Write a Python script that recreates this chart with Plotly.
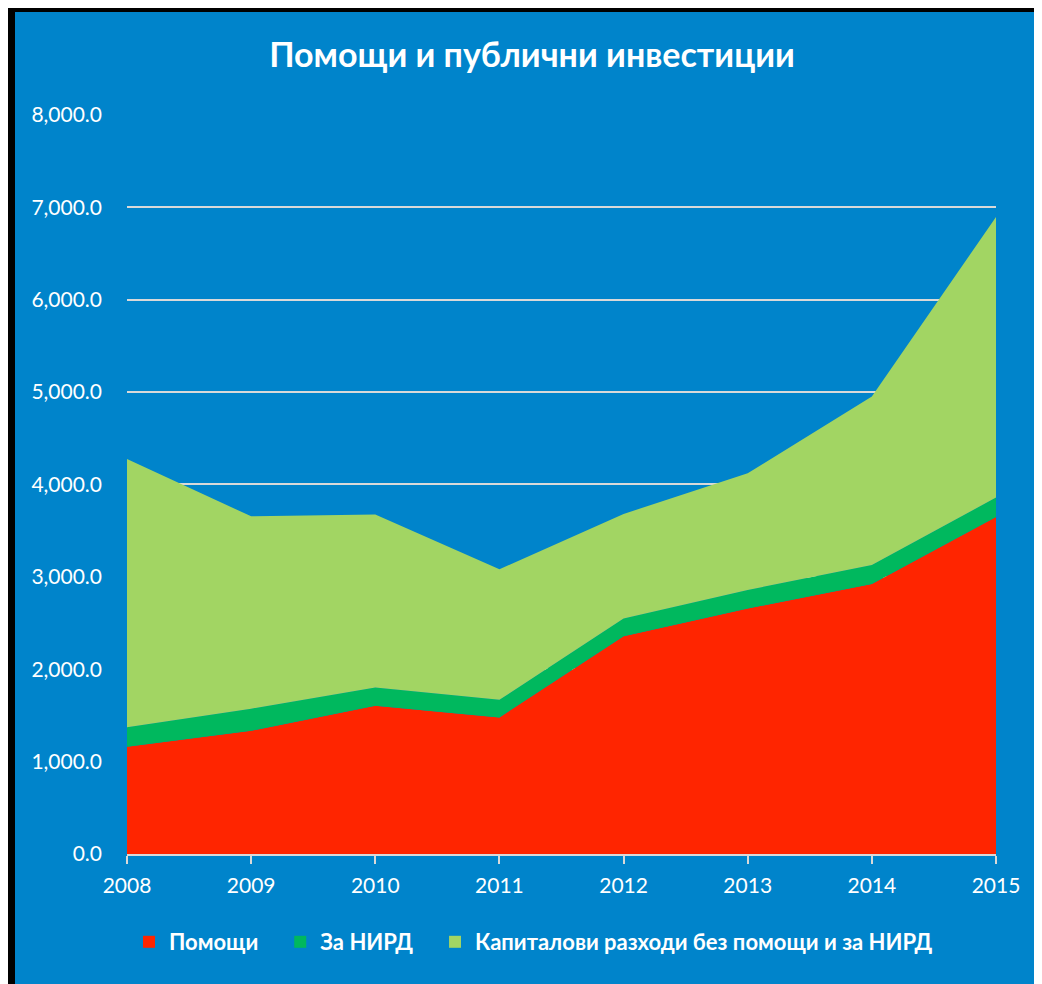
import plotly.graph_objects as go

# Данни (млн. лв.)
godini = [2008, 2009, 2010, 2011, 2012, 2013, 2014, 2015]
pomoshti = [1160, 1333, 1603, 1478, 2357, 2657, 2923, 3647]
za_nird = [212, 240, 200, 190, 192, 200, 205, 210]
kapitalovi = [2903, 2081, 1871, 1413, 1131, 1263, 1824, 3036]

serii = ["Помощи", "За НИРД", "Капиталови разходи без помощи и за НИРД"]
cvetove = ["#FF2500", "#00B85E", "#A2D563"]
y_tikove = [0, 1000, 2000, 3000, 4000, 5000, 6000, 7000, 8000]

# страницата има 8px отстъп, затова фигурата е по-малка
W, H = 1034, 976
L, R, T, B = 119, 46, 106, 130
SIN = "#0084CB"
SHRIFT = "Lato, 'Open Sans', sans-serif"

fig = go.Figure()

for i, (ime, stojnosti, cvyat) in enumerate(zip(serii, [pomoshti, za_nird, kapitalovi], cvetove)):
    fig.add_trace(go.Scatter(x=godini, y=stojnosti, name=ime, mode='lines',
                             stackgroup='one', line=dict(width=0, color=cvyat),
                             fillcolor=cvyat, showlegend=False))
    # само за легендата - квадратче (с допълнителен интервал след текста)
    otstap = "\u00a0" * 3 if i < len(serii) - 1 else ""
    fig.add_trace(go.Scatter(x=[None], y=[None], name="<b>" + ime + "</b>" + otstap,
                             mode='markers',
                             marker=dict(symbol='square', size=12, color=cvyat)))

# рамка и фон (пиксели -> paper координати)
pw, ph = W - L - R, H - T - B
def px(x): return (x - L) / pw
def py(y): return (H - B - y) / ph

fig.add_shape(type='rect', xref='paper', yref='paper', layer='below',
              x0=px(0), x1=px(W + 20), y0=py(H + 20), y1=py(0),
              fillcolor='black', line_width=0)
fig.add_shape(type='rect', xref='paper', yref='paper', layer='below',
              x0=px(7), x1=px(W + 20), y0=py(H + 20), y1=py(4),
              fillcolor=SIN, line_width=0)

fig.update_layout(
    width=W, height=H,
    margin=dict(l=L, r=R, t=T, b=B),
    paper_bgcolor='white', plot_bgcolor=SIN,
    font=dict(family=SHRIFT, color='white', size=21),
    title=dict(text="<b>Помощи и публични инвестиции</b>", x=524 / W, xref='container',
               xanchor='center', y=1 - 47 / H, yref='container', yanchor='middle',
               font=dict(size=34, color='white', family=SHRIFT)),
    legend=dict(orientation='h', x=px(121), xanchor='left', y=py(934), yanchor='middle',
                font=dict(size=22, color='white', family=SHRIFT), bgcolor='rgba(0,0,0,0)',
                itemsizing='constant', traceorder='normal'),
    xaxis=dict(range=[2008, 2015], tickvals=godini, ticks='outside', ticklen=8,
               tickcolor='#D9D9D9', tickwidth=2, showgrid=False, showline=True,
               linecolor='#D9D9D9', linewidth=2, zeroline=False, ticklabelstandoff=4,
               tickfont=dict(size=21, color='white')),
    yaxis=dict(range=[0, 8008], tickvals=y_tikove, tickformat=',.1f', showgrid=True,
               gridcolor='#D9D9D9', gridwidth=2, zeroline=False, showline=False,
               ticklabelstandoff=24, tickfont=dict(size=21, color='white')),
)

fig.write_html("out.html")
